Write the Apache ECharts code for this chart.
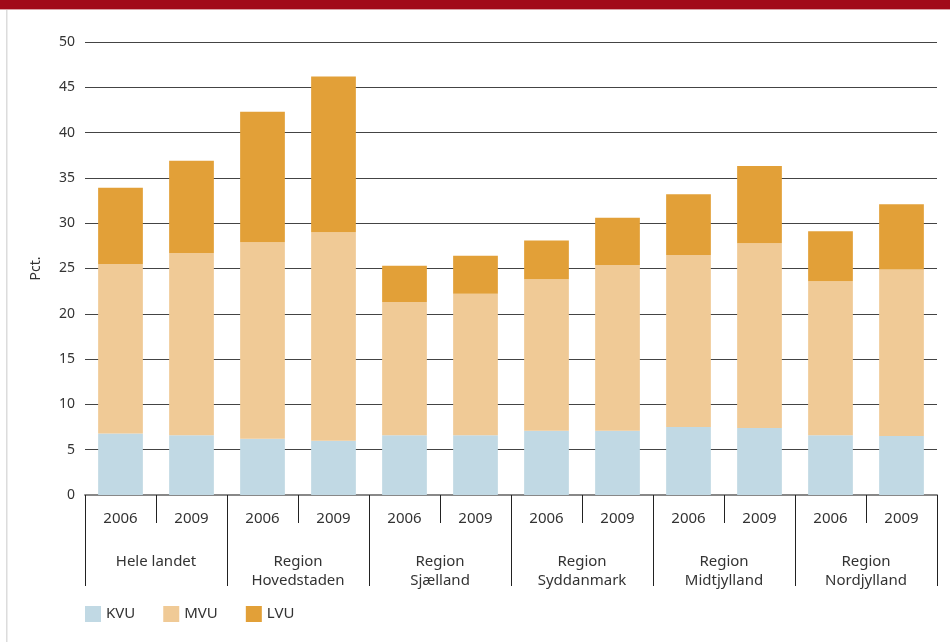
<!DOCTYPE html>
<html>
<head>
<meta charset="utf-8">
<script src="https://cdn.jsdelivr.net/npm/echarts@6/dist/echarts.min.js"></script>
<style>
  html, body { margin: 0; padding: 0; background: #fff; }
  #chart { width: 950px; height: 642px; }
</style>
</head>
<body>
<div id="chart"></div>
<script>
// data
const years = ["2006", "2009", "2006", "2009", "2006", "2009", "2006", "2009", "2006", "2009", "2006", "2009"];
const regions = ["Hele landet", "Region\nHovedstaden", "Region\nSjælland", "Region\nSyddanmark", "Region\nMidtjylland", "Region\nNordjylland"];
const kvu = [6.8, 6.6, 6.2, 6.0, 6.6, 6.6, 7.1, 7.1, 7.5, 7.4, 6.6, 6.5];
const mvu = [18.7, 20.1, 21.7, 23.0, 14.7, 15.6, 16.7, 18.3, 19.0, 20.4, 17.0, 18.4];
const lvu = [8.4, 10.2, 14.4, 17.2, 4.0, 4.2, 4.3, 5.2, 6.7, 8.5, 5.5, 7.2];

const font = "Noto Sans";
const chart = echarts.init(document.getElementById("chart"));

chart.setOption({
  animation: false,
  textStyle: { fontFamily: font },
  grid: { left: 85, right: 13, top: 42, bottom: 147 },
  legend: {
    left: 80,
    top: 601,
    itemWidth: 16,
    itemHeight: 16,
    itemGap: 28,
    icon: "rect",
    textStyle: { fontSize: 15, color: "#333", fontFamily: font },
    data: ["KVU", "MVU", "LVU"]
  },
  xAxis: [
    {
      type: "category",
      data: years,
      position: "bottom",
      axisLine: { lineStyle: { color: "#888", width: 2 } },
      axisTick: { show: true, interval: 0, length: 28, lineStyle: { color: "#222" } },
      axisLabel: { interval: 0, margin: 16, fontSize: 15, color: "#333" }
    },
    {
      type: "category",
      data: regions,
      position: "bottom",
      axisLine: { show: false },
      axisTick: { show: true, interval: 0, length: 91, lineStyle: { color: "#222" } },
      axisLabel: { interval: 0, margin: 57, fontSize: 15, color: "#333", lineHeight: 19 }
    }
  ],
  yAxis: {
    type: "value",
    min: 0,
    max: 50,
    interval: 5,
    name: "Pct.",
    nameLocation: "middle",
    nameGap: 42,
    nameTextStyle: { fontSize: 14, color: "#333" },
    axisLine: { show: false },
    axisTick: { show: false },
    axisLabel: { fontSize: 14, color: "#333", margin: 10 },
    splitLine: { lineStyle: { color: "#444", width: 1 } }
  },
  graphic: [
    { type: "rect", left: 0, top: 0, shape: { width: 950, height: 9 }, style: { fill: "#a10a19" } },
    { type: "rect", left: 0, top: 9, shape: { width: 950, height: 1 }, style: { fill: "#d9a0a5" } },
    { type: "rect", left: 6, top: 10, shape: { width: 1.5, height: 632 }, style: { fill: "#dcdcdc" } }
  ],
  series: [
    { name: "KVU", type: "bar", stack: "t", data: kvu, barWidth: "63%", itemStyle: { color: "#c1d9e4" } },
    { name: "MVU", type: "bar", stack: "t", data: mvu, itemStyle: { color: "#f0ca96" } },
    { name: "LVU", type: "bar", stack: "t", data: lvu, itemStyle: { color: "#e2a038" } }
  ]
});
</script>
</body>
</html>
